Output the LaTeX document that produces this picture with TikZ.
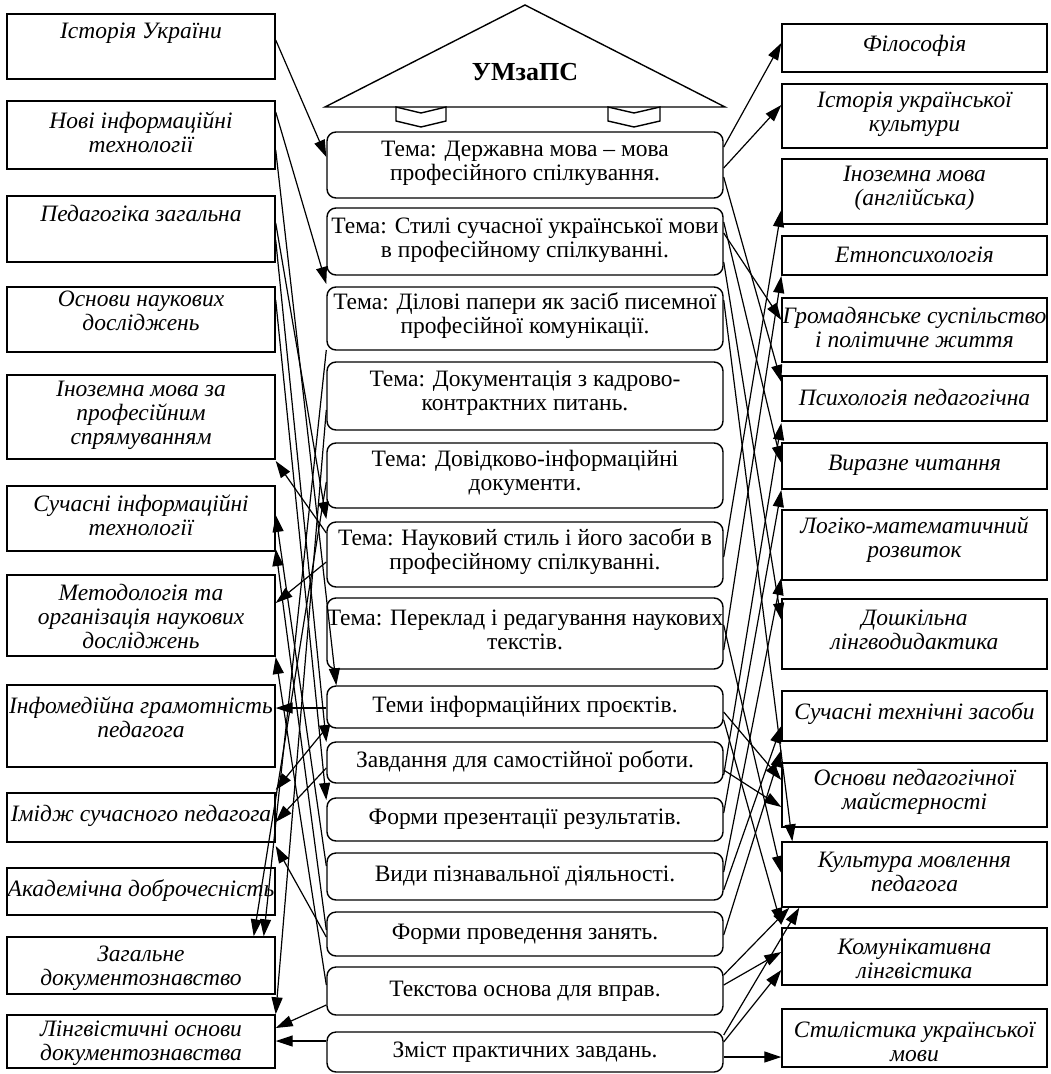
\documentclass[tikz,border=0pt]{standalone}
\usepackage{fontspec}
\setmainfont{Liberation Serif}
\usetikzlibrary{arrows.meta,calc}
\begin{document}
\begin{tikzpicture}[x=1pt,y=-1pt,
  box/.style={draw,line width=1.4pt,inner sep=0pt},
  sidebox/.style={box,minimum width=268pt},
  rightbox/.style={box,minimum width=265pt},
  topicbox/.style={box,rounded corners=9pt,minimum width=396pt},
  sidetext/.style={inner sep=0pt,align=center,font=\itshape\fontsize{23.5}{24}\selectfont},
  topictext/.style={inner sep=0pt,align=center,font=\fontsize{23.5}{24}\selectfont},
  link/.style={line width=1.2pt,-{Triangle[length=17pt,width=11pt]}},
  roof/.style={line width=1.4pt,line join=miter}
]
\useasboundingbox (0,0) rectangle (1050,1074);

% roof with title
\draw[roof] (325,107) coordinate (roofL) -- (525,5) coordinate (roofT) -- (725,107) coordinate (roofR) -- cycle;
\node[font=\bfseries\fontsize{26}{28}\selectfont] (title) at (525,72) {УМзаПС};
\draw[roof] (396,107) -- (421,113) -- (446,107) -- (446,121) -- (421,127) -- (396,121) -- cycle;
\draw[roof] (608,107) -- (634,113) -- (660,107) -- (660,121) -- (634,127) -- (608,121) -- cycle;

% left column
\node[sidebox,minimum height=65pt] (L1)  at (141,46.5) {};
\node[sidebox,minimum height=68pt] (L2)  at (141,135) {};
\node[sidebox,minimum height=66pt] (L3)  at (141,229) {};
\node[sidebox,minimum height=65pt] (L4)  at (141,319.5) {};
\node[sidebox,minimum height=84pt] (L5)  at (141,417) {};
\node[sidebox,minimum height=65pt] (L6)  at (141,518.5) {};
\node[sidebox,minimum height=81pt] (L7)  at (141,615.5) {};
\node[sidebox,minimum height=82pt] (L8)  at (141,726) {};
\node[sidebox,minimum height=49pt] (L9)  at (141,817.5) {};
\node[sidebox,minimum height=47pt] (L10) at (141,891.5) {};
\node[sidebox,minimum height=57pt] (L11) at (141,965.5) {};
\node[sidebox,minimum height=53pt] (L12) at (141,1041.5) {};

\node[sidetext] (L1t)  at (141,33) {Історія України};
\node[sidetext] (L2t)  at (141,132) {Нові інформаційні\\технології};
\node[sidetext] (L3t)  at (141,213) {Педагогіка загальна};
\node[sidetext] (L4t)  at (141,311) {Основи наукових\\досліджень};
\node[sidetext] (L5t)  at (141,415) {Іноземна мова за\\професійним\\спрямуванням};
\node[sidetext] (L6t)  at (141,515) {Сучасні інформаційні\\технології};
\node[sidetext] (L7t)  at (141,616) {Методологія та\\організація наукових\\досліджень};
\node[sidetext] (L8t)  at (141,717) {Інфомедійна грамотність\\педагога};
\node[sidetext] (L9t)  at (141,816) {Імідж сучасного педагога};
\node[sidetext] (L10t) at (141,891) {Академічна доброчесність};
\node[sidetext] (L11t) at (141,968) {Загальне\\документознавство};
\node[sidetext] (L12t) at (141,1043) {Лінгвістичні основи\\документознавства};

% centre column
\node[topicbox,minimum height=66pt] (C1)  at (525,165) {};
\node[topicbox,minimum height=67pt] (C2)  at (525,241.5) {};
\node[topicbox,minimum height=63pt] (C3)  at (525,318.5) {};
\node[topicbox,minimum height=68pt] (C4)  at (525,396) {};
\node[topicbox,minimum height=65pt] (C5)  at (525,475.5) {};
\node[topicbox,minimum height=65pt] (C6)  at (525,554.5) {};
\node[topicbox,minimum height=71pt] (C7)  at (525,633.5) {};
\node[topicbox,minimum height=42pt] (C8)  at (525,707) {};
\node[topicbox,minimum height=41pt] (C9)  at (525,762.5) {};
\node[topicbox,minimum height=43pt] (C10) at (525,819.5) {};
\node[topicbox,minimum height=47pt] (C11) at (525,876.5) {};
\node[topicbox,minimum height=44pt] (C12) at (525,934) {};
\node[topicbox,minimum height=48pt] (C13) at (525,991) {};
\node[topicbox,minimum height=40pt] (C14) at (525,1052) {};

\node[topictext] (C1t)  at (525,163) {Тема: Державна мова – мова\\професійного спілкування.};
\node[topictext] (C2t)  at (525,240) {Тема: Стилі сучасної української мови\\в професійному спілкуванні.};
\node[topictext] (C3t)  at (525,316) {Тема: Ділові папери як засіб писемної\\професійної комунікації.};
\node[topictext] (C4t)  at (525,393) {Тема: Документація з кадрово-\\контрактних питань.};
\node[topictext] (C5t)  at (525,473) {Тема: Довідково-інформаційні\\документи.};
\node[topictext] (C6t)  at (525,552) {Тема: Науковий стиль і його засоби в\\професійному спілкуванні.};
\node[topictext] (C7t)  at (525,630) {Тема: Переклад і редагування наукових\\текстів.};
\node[topictext] (C8t)  at (525,707) {Теми інформаційних проєктів.};
\node[topictext] (C9t)  at (525,762) {Завдання для самостійної роботи.};
\node[topictext] (C10t) at (525,819) {Форми презентації результатів.};
\node[topictext] (C11t) at (525,876) {Види пізнавальної діяльності.};
\node[topictext] (C12t) at (525,934) {Форми проведення занять.};
\node[topictext] (C13t) at (525,991) {Текстова основа для вправ.};
\node[topictext] (C14t) at (525,1052) {Зміст практичних завдань.};

% right column
\node[rightbox,minimum height=48pt] (R1)  at (914.5,48) {};
\node[rightbox,minimum height=64pt] (R2)  at (914.5,116) {};
\node[rightbox,minimum height=65pt] (R3)  at (914.5,191.5) {};
\node[rightbox,minimum height=39pt] (R4)  at (914.5,255.5) {};
\node[rightbox,minimum height=64pt] (R5)  at (914.5,330) {};
\node[rightbox,minimum height=45pt] (R6)  at (914.5,398.5) {};
\node[rightbox,minimum height=46pt] (R7)  at (914.5,466) {};
\node[rightbox,minimum height=70pt] (R8)  at (914.5,545) {};
\node[rightbox,minimum height=70pt] (R9)  at (914.5,634) {};
\node[rightbox,minimum height=50pt] (R10) at (914.5,716) {};
\node[rightbox,minimum height=64pt] (R11) at (914.5,795) {};
\node[rightbox,minimum height=65pt] (R12) at (914.5,874.5) {};
\node[rightbox,minimum height=57pt] (R13) at (914.5,956.5) {};
\node[rightbox,minimum height=58pt] (R14) at (914.5,1038) {};

\node[sidetext] (R1t)  at (914.5,46) {Філософія};
\node[sidetext] (R2t)  at (914.5,114) {Історія української\\культури};
\node[sidetext] (R3t)  at (914.5,188) {Іноземна мова\\(англійська)};
\node[sidetext] (R4t)  at (914.5,255) {Етнопсихологія};
\node[sidetext] (R5t)  at (914.5,327) {Громадянське суспільство\\і політичне життя};
\node[sidetext] (R6t)  at (914.5,397) {Психологія педагогічна};
\node[sidetext] (R7t)  at (914.5,465) {Виразне читання};
\node[sidetext] (R8t)  at (914.5,540) {Логіко-математичний\\розвиток};
\node[sidetext] (R9t)  at (914.5,630) {Дошкільна\\лінгводидактика};
\node[sidetext] (R10t) at (914.5,714) {Сучасні технічні засоби};
\node[sidetext] (R11t) at (914.5,792) {Основи педагогічної\\майстерності};
\node[sidetext] (R12t) at (914.5,872) {Культура мовлення\\педагога};
\node[sidetext] (R13t) at (914.5,959) {Комунікативна\\лінгвістика};
\node[sidetext] (R14t) at (914.5,1042) {Стилістика української\\мови};

% links between the left column and the topics
\draw[link] (L1.east |- 0,40)  -- (C1.west |- 0,157);
\draw[link] (L2.east |- 0,112) -- (C3.west |- 0,284);
\draw[link] (L2.east |- 0,150) -- ($(C8.north west)+(10,0)$);
\draw[link] (L3.east |- 0,223) -- (C6.west |- 0,519);
\draw[link] (L3.east |- 0,240) -- (C9.west |- 0,742);
\draw[link] (L4.east |- 0,300) -- (C10.west |- 0,800);
\draw[link] (C6.west |- 0,533) -- (L5.east |- 0,461);
\draw[link] (C11.west |- 0,866) -- (L6.east |- 0,515);
\draw[link] (C12.west |- 0,930) -- (L6.east |- 0,549);
\draw[link] (C6.west |- 0,562) -- (L7.east |- 0,603);
\draw[link] (C13.west |- 0,985) -- (L7.east |- 0,657);
\draw[link] (C8.west |- 0,708) -- (L8.east |- 0,708);
\draw[link] (C8.west |- 0,728) -- (L9.east |- 0,790);
\draw[link] (C9.west |- 0,768) -- (L9.east |- 0,822);
\draw[link] (C12.west |- 0,937) -- (L9.east |- 0,846);
\draw[link] (C3.west |- 0,350) -- ($(L11.north east)+(-12,0)$);
\draw[link] (C5.west |- 0,482) -- ($(L11.north east)+(-22,0)$);
\draw[link] (C4.west |- 0,410) -- (L12.north east);
\draw[link] (C13.west |- 0,1005) -- (L12.east |- 0,1028);
\draw[link] (C14.west |- 0,1041) -- (L12.east |- 0,1041);

% links between the topics and the right column
\draw[link] (C1.east |- 0,147) -- (R1.west |- 0,43);
\draw[link] (C1.east |- 0,168) -- (R2.west |- 0,105);
\draw[link] (C1.east |- 0,177) -- (R6.west |- 0,382);
\draw[link] (C2.east |- 0,233) -- (R5.west |- 0,320);
\draw[link] (C2.east |- 0,222) -- (R7.west |- 0,463);
\draw[link] (C2.east |- 0,262) -- (R9.west |- 0,620);
\draw[link] (C3.east |- 0,300) -- ($(R12.north west)+(11,0)$);
\draw[link] (C6.east |- 0,557) -- (R3.west |- 0,210);
\draw[link] (C7.east |- 0,650) -- (R4.west |- 0,276);
\draw[link] (C9.east |- 0,775) -- (R6.west |- 0,423);
\draw[link] (C10.east |- 0,813) -- (R7.west |- 0,490);
\draw[link] (C11.east |- 0,872) -- (R8.west |- 0,578);
\draw[link] (C11.east |- 0,890) -- (R10.west |- 0,726);
\draw[link] (C12.east |- 0,935) -- (R10.west |- 0,750);
\draw[link] (C8.east |- 0,712) -- (R11.west |- 0,780);
\draw[link] (C9.east |- 0,770) -- (R11.west |- 0,807);
\draw[link] (C7.east |- 0,625) -- (R12.west |- 0,873);
\draw[link] (C8.east |- 0,720) -- (R13.west |- 0,925);
\draw[link] (C13.east |- 0,985) -- (R13.west |- 0,952);
\draw[link] (C13.east |- 0,975) -- ($(R12.south west)+(8,0)$);
\draw[link] (C14.east |- 0,1035) -- ($(R12.south west)+(18,0)$);
\draw[link] (C14.east |- 0,1042) -- (R13.west |- 0,970);
\draw[link] (C14.east |- 0,1057) -- (R14.west |- 0,1057);
\end{tikzpicture}
\end{document}
